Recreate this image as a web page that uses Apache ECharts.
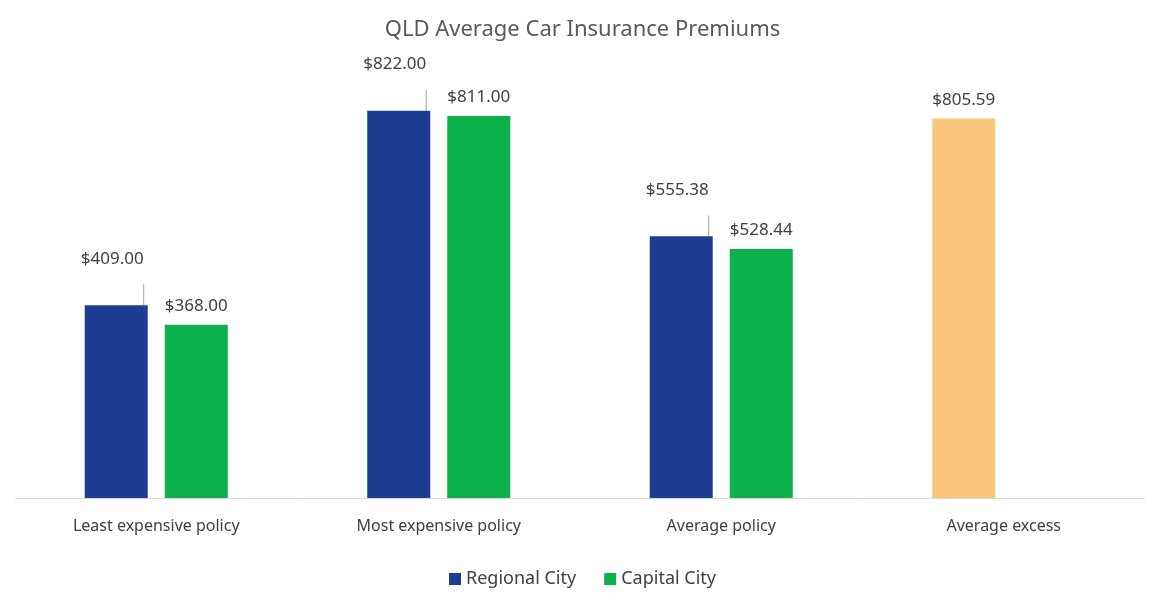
<!DOCTYPE html>
<html><head><meta charset="utf-8">
<script src="https://cdn.jsdelivr.net/npm/echarts@6/dist/echarts.min.js"></script>
<style>html,body{margin:0;background:#fff}#c{width:1165px;height:607px}</style>
</head><body><div id="c"></div>
<script>
var categories = ['Least expensive policy', 'Most expensive policy', 'Average policy', 'Average excess'];
var regionalCity = [409.00, 822.00, 555.38, 805.59];
var capitalCity = [368.00, 811.00, 528.44, null];

var money = function (p) { return '$' + p.value.toFixed(2); };
var font = '"Noto Sans", "Liberation Sans", sans-serif';

// regional bars: leader-line labels for the first three, orange for excess
var regionalData = regionalCity.map(function (v, i) {
  if (i === 3) return { value: v, itemStyle: { color: '#F8C77D' } };
  return { value: v, label: { offset: [-4, -28] }, labelLine: { show: true } };
});

var chart = echarts.init(document.getElementById('c'));
chart.setOption({
  backgroundColor: '#fff',
  title: {
    text: 'QLD Average Car Insurance Premiums', left: 'center', top: 14,
    textStyle: { fontFamily: font, fontSize: 22, fontWeight: 'normal', color: '#595959' }
  },
  legend: {
    bottom: 14, itemWidth: 12, itemHeight: 12, icon: 'rect', itemGap: 28,
    textStyle: { fontFamily: font, fontSize: 18, color: '#404040' },
    data: ['Regional City', 'Capital City']
  },
  grid: { left: 15, right: 20, top: 74, bottom: 109 },
  xAxis: {
    type: 'category', data: categories,
    axisLine: { lineStyle: { color: '#d9d9d9' } }, axisTick: { show: false },
    axisLabel: { fontFamily: font, fontSize: 16, color: '#404040', margin: 20 }
  },
  yAxis: { type: 'value', min: 0, max: 900, show: false, splitLine: { show: false } },
  series: [
    {
      name: 'Regional City', type: 'bar', barWidth: 63, barGap: '27%',
      itemStyle: { color: '#1C3D91' },
      label: { show: true, position: 'top', distance: 10, formatter: money,
        fontFamily: font, fontSize: 17, color: '#404040' },
      labelLine: { lineStyle: { color: '#a6a6a6' } },
      data: regionalData
    },
    {
      name: 'Capital City', type: 'bar', barWidth: 63,
      itemStyle: { color: '#0DB14B' },
      label: { show: true, position: 'top', distance: 10, formatter: money,
        fontFamily: font, fontSize: 17, color: '#404040' },
      data: capitalCity
    }
  ]
});
</script></body></html>
